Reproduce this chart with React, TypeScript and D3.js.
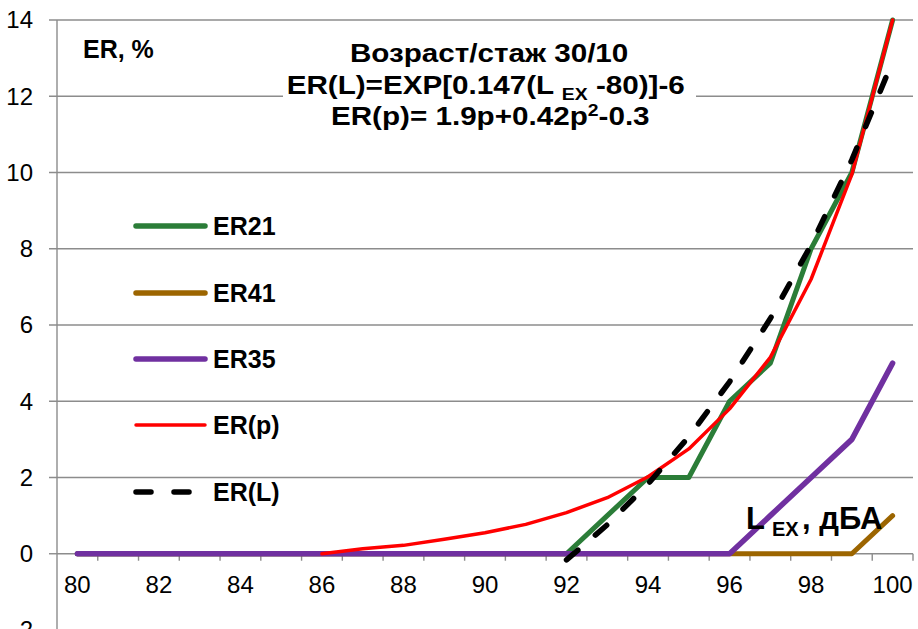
import React from "react";
import * as d3 from "d3";

const categories = [80, 81, 82, 83, 84, 85, 86, 87, 88, 89, 90, 91, 92, 93, 94, 95, 96, 97, 98, 99, 100];
const er21 = [0, 0, 0, 0, 0, 0, 0, 0, 0, 0, 0, 0, 0, 1, 2, 2, 4, 5, 8, 10, 14];
const er41 = [0, 0, 0, 0, 0, 0, 0, 0, 0, 0, 0, 0, 0, 0, 0, 0, 0, 0, 0, 0, 1];
const er35 = [0, 0, 0, 0, 0, 0, 0, 0, 0, 0, 0, 0, 0, 0, 0, 0, 0, 1, 2, 3, 5];
const erP: (number | null)[] = [null, null, null, null, null, null, 0, 0.13, 0.22, 0.38, 0.55, 0.77, 1.08, 1.47, 2.02, 2.75, 3.8, 5.15, 7.2, 9.95, 14];
const erL: (number | null)[] = [null, null, null, null, null, null, null, null, null, null, null, null, -0.16, 0.76, 1.83, 3.07, 4.51, 6.17, 8.1, 10.33, 12.92];
const yTicks = [-2, 0, 2, 4, 6, 8, 10, 12, 14];
const xLabels = [80, 82, 84, 86, 88, 90, 92, 94, 96, 98, 100];

const seriesNames = ["ER21", "ER41", "ER35", "ER(p)", "ER(L)"];
const seriesData = [er21, er41, er35, erP, erL];
const seriesColors = ["#2b7d38", "#9c6500", "#7030a0", "#ff0000", "#000000"];
const seriesWidths = [5, 5, 5.5, 3.5, 5.5];
const seriesDash = [null, null, null, null, "15,23"];

const FONT = "'Liberation Sans', Arial, sans-serif";

export default function App() {
  const W = 918, H = 629;
  const left = 57, right = 913, top = 20;
  const x = d3.scaleBand<number>().domain(categories).range([left, right]).padding(0);
  const bw = x.bandwidth();
  const cx = (c: number) => (x(c) as number) + bw / 2;
  const y = d3.scaleLinear().domain([-2, 14]).range([630, top]);

  const lineGen = d3
    .line<number | null>()
    .defined((d) => d !== null)
    .x((_, i) => cx(categories[i]))
    .y((d) => y(d as number));

  const gridColor = "#8c8c8c";
  const legendY = [226, 293, 359, 425, 492];
  const tc = 488;

  return (
    <svg width={W} height={H} style={{ position: "absolute", left: 0, top: 0, background: "#fff" }} fontFamily={FONT}>
      <rect x={0} y={0} width={W} height={H} fill="#fff" />
      {yTicks.filter((t) => t > 0).map((t) => (
        <line key={"g" + t} x1={49} x2={right} y1={y(t)} y2={y(t)} stroke={gridColor} strokeWidth={1.4} />
      ))}
      {yTicks.filter((t) => t <= 0).map((t) => (
        <line key={"yt" + t} x1={49} x2={left} y1={y(t)} y2={y(t)} stroke={gridColor} strokeWidth={1.4} />
      ))}
      <line x1={left} x2={left} y1={top} y2={H} stroke={gridColor} strokeWidth={1.4} />
      <line x1={left} x2={right} y1={y(0)} y2={y(0)} stroke={gridColor} strokeWidth={1.4} />
      {categories.map((c) => {
        const tx = (x(c) as number) + bw;
        return <line key={"xt" + c} x1={tx} x2={tx} y1={y(0)} y2={y(0) + 7} stroke={gridColor} strokeWidth={1.4} />;
      })}
      {yTicks.map((t) => (
        <text key={"yl" + t} x={33} y={y(t)} dy="0.35em" textAnchor="end" fontSize={24} fill="#000">
          {t < 0 ? "-" + Math.abs(t) : t}
        </text>
      ))}
      {xLabels.map((c) => (
        <text key={"xl" + c} x={cx(c)} y={593} textAnchor="middle" fontSize={24} fill="#000">
          {c}
        </text>
      ))}
      <rect x={283} y={32} width={413} height={108} fill="#fff" />
      <g transform={`translate(${tc},0) scale(1.14,1) translate(${-tc},0)`}>
        <text x={tc + 1} y={62} textAnchor="middle" fontSize={26} fontWeight="bold">
          Возраст/стаж 30/10
        </text>
        <text x={tc - 2} y={94} textAnchor="middle" fontSize={26} fontWeight="bold">
          ER(L)=EXP[0.147(L <tspan fontSize={17} dy={6}>EX</tspan>
          <tspan dy={-6}> -80)]-6</tspan>
        </text>
        <text x={tc + 2} y={125} textAnchor="middle" fontSize={26} fontWeight="bold">
          ER(p)= 1.9p+0.42p<tspan fontSize={17} dy={-9}>2</tspan>
          <tspan dy={9}>-0.3</tspan>
        </text>
      </g>
      <text x={83} y={58} fontSize={25} fontWeight="bold">
        ER, %
      </text>
      {seriesData.map((data, si) => (
        <path
          key={"s" + si}
          d={lineGen(data) || ""}
          fill="none"
          stroke={seriesColors[si]}
          strokeWidth={seriesWidths[si]}
          strokeDasharray={seriesDash[si] || undefined}
          strokeLinecap="round"
          strokeLinejoin="round"
        />
      ))}
      <text x={746} y={529} fontSize={31} fontWeight="bold">
        L
      </text>
      <text x={772} y={536} fontSize={20} fontWeight="bold">
        EX
      </text>
      <text x={802} y={529} fontSize={31} fontWeight="bold">
        , дБА
      </text>
      {seriesNames.map((n, i) => (
        <g key={"lg" + i}>
          <line
            x1={136}
            x2={i === 4 ? 192 : 205}
            y1={legendY[i]}
            y2={legendY[i]}
            stroke={seriesColors[i]}
            strokeWidth={i === 3 ? 3.5 : 5.5}
            strokeDasharray={seriesDash[i] || undefined}
            strokeLinecap="round"
          />
          <text x={213} y={legendY[i] + 9} fontSize={25} fontWeight="bold">
            {n}
          </text>
        </g>
      ))}
    </svg>
  );
}
